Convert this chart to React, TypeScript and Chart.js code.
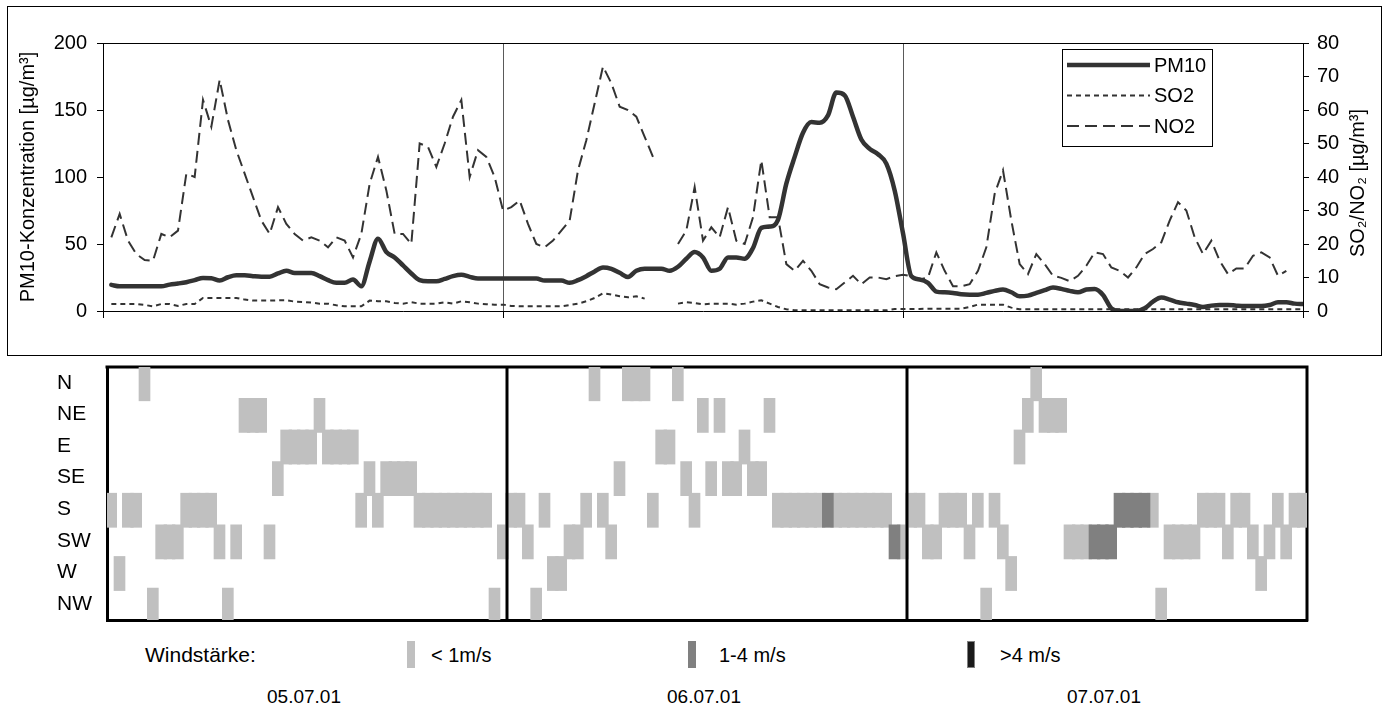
import React, { useEffect, useRef } from "react";
import { Chart, registerables } from "chart.js";

Chart.register(...registerables);

const FONT = '"Liberation Sans", Arial, Helvetica, sans-serif';
Chart.defaults.font.family = FONT;

// ---------- time axis: half-hour slots over three days ----------
const slots = Array.from({ length: 144 }, (_, i) => i + 1);
const dayBounds = [0, 48, 96, 144];
const dayLabels = ["05.07.01", "06.07.01", "07.07.01"];
const pmTicks = [0, 50, 100, 150, 200];
const gasTicks = [0, 10, 20, 30, 40, 50, 60, 70, 80];

// ---------- concentrations (half-hourly) ----------
const pm10 = [
  19.5, 18.4, 18.4, 18.4, 18.4, 18.4, 18.4, 19.7, 20.5, 21.5,
  23, 24.7, 24.5, 22.8, 25.2, 26.6, 26.6, 26, 25.6, 25.6,
  28, 30, 28.4, 28.4, 28.4, 26, 23, 21, 21, 23.5,
  18.5, 37, 54, 44, 40, 34, 28, 23, 22.2, 22.2,
  24, 26, 27, 25.5, 24.2, 24.2, 24.2, 24.2, 24.2, 24.2,
  24.2, 24.2, 22.7, 22.7, 22.7, 21, 23, 26, 29.5, 32.5,
  31.5, 28.5, 25.4, 30, 31.6, 31.6, 31.6, 30, 33, 39,
  44, 40, 30, 31.5, 40, 40, 39, 47, 62, 63,
  68, 95, 115, 133, 141, 140.5, 146, 163, 161, 145,
  128, 121, 117, 110, 90, 58, 26, 23.5, 21, 14.5,
  14, 13.5, 12.5, 12.2, 12.2, 13.5, 15, 16, 14, 11,
  11.5, 13.5, 15.5, 17.5, 16.5, 15, 14, 16, 16.4, 12,
  2, 0, 0, 0, 2, 7, 10, 8.5, 6.5, 5.5,
  4.5, 3, 4, 4.5, 4.5, 4, 3.7, 3.7, 3.7, 4.5,
  6.5, 6.5, 5.5, 5.2,
];

const so2 = [
  2.1, 2.1, 2.1, 2.1, 1.8, 1.4, 2.1, 2.1, 1.5, 2.1,
  2.1, 3.9, 3.9, 3.9, 3.9, 3.9, 3.4, 3.1, 3.1, 3.1,
  3.2, 3.2, 2.8, 2.7, 2.5, 2.2, 2.2, 1.7, 1.4, 1.4,
  1.4, 3.1, 2.9, 2.9, 2.4, 2.2, 2.6, 2.2, 2.2, 2.2,
  2.6, 2.2, 2.9, 2.6, 2.2, 2.0, 1.9, 1.9, 1.5, 1.4,
  1.4, 1.4, 1.4, 1.4, 1.4, 1.8, 2.2, 2.9, 3.9, 5.3,
  4.9, 4.4, 4.1, 4.4, 3.7, null, null, null, 2.2, 2.6,
  2.4, 2.0, 2.2, 2.2, 2.2, 1.9, 2.2, 2.8, 3.2, 2.2,
  1.2, 0.5, 0.2, 0.2, 0.2, 0.2, 0.2, 0.2, 0.2, 0.2,
  0.2, 0.2, 0.2, 0.2, 0.6, 0.6, 0.6, 0.6, 0.7, 0.7,
  0.7, 0.7, 0.7, 1.2, 1.9, 1.9, 1.9, 1.9, 1.0, 0.5,
  0.5, 0.5, 0.5, 0.5, 0.5, 0.5, 0.5, 0.5, 0.5, 0.5,
  0.5, 0.5, 0.5, 0.5, 0.5, 0.5, 0.5, 0.5, 0.5, 0.5,
  0.5, 0.5, 0.5, 0.5, 0.5, 0.5, 0.5, 0.5, 0.5, 0.5,
  0.5, 0.5, 0.5, 0.5,
];

const no2 = [
  22, 29, 21, 17, 15.2, 15, 23, 22, 24, 41,
  40, 63, 55, 69, 57, 48, 41, 34, 27, 23,
  31, 26, 23, 21, 22, 21, 19, 22, 21, 16,
  23, 38, 46, 36, 23, 23, 20, 50, 49, 43,
  50, 58, 63, 40, 48, 46, 40, 30, 31, 33,
  26, 20, 19, 21, 24, 27, 42, 51, 62, 73,
  68, 61, 60, 58, 52, 46, null, null, 20, 24,
  37, 21, 25, 22, 31, 21, 20, 28, 45, 28,
  28, 14, 12, 15, 12, 8, 7, 6.5, 8.5, 10.5,
  8, 10, 10, 9.5, 10.4, 10.8, 10.4, 9.4, 10, 17.5,
  12, 7.4, 7.4, 8, 12, 19, 35, 42, 27, 14,
  11, 17, 14, 10.5, 9.9, 8.9, 10.5, 13.5, 17.5, 17,
  13, 12, 10, 13, 17, 18.5, 20.5, 27, 32.5, 30,
  22, 17, 21, 15, 11, 12.7, 12.7, 16.5, 17.5, 16,
  10.5, 12, null, null,
];

// ---------- wind (half-hourly direction and strength class) ----------
const directions = ["N", "NE", "E", "SE", "S", "SW", "W", "NW"];
const windDir = [
  "S", "W", "S", "S", "N", "NW", "SW", "SW", "SW", "S", "S", "S",
  "S", "SW", "NW", "SW", "NE", "NE", "NE", "SW", "SE", "E", "E", "E",
  "E", "NE", "E", "E", "E", "E", "S", "SE", "S", "SE", "SE", "SE",
  "SE", "S", "S", "S", "S", "S", "S", "S", "S", "S", "NW", "SW",
  "S", "S", "SW", "NW", "S", "W", "W", "SW", "SW", "S", "N", "S",
  "SW", "SE", "N", "N", "N", "S", "E", "E", "N", "SE", "S", "NE",
  "SE", "NE", "SE", "SE", "E", "SE", "SE", "NE", "S", "S", "S", "S",
  "S", "S", "S", "S", "S", "S", "S", "S", "S", "S", "SW", "SW",
  "S", "S", "SW", "SW", "S", "S", "S", "SW", "S", "NW", "S", "SW",
  "W", "E", "NE", "N", "NE", "NE", "NE", "SW", "SW", "SW", "SW", "SW",
  "SW", "S", "S", "S", "S", "S", "NW", "SW", "SW", "SW", "SW", "S",
  "S", "S", "SW", "S", "S", "SW", "W", "SW", "S", "SW", "S", "S",
];
const windForce = [
  1, 1, 1, 1, 1, 1, 1, 1, 1, 1, 1, 1,
  1, 1, 1, 1, 1, 1, 1, 1, 1, 1, 1, 1,
  1, 1, 1, 1, 1, 1, 1, 1, 1, 1, 1, 1,
  1, 1, 1, 1, 1, 1, 1, 1, 1, 1, 1, 1,
  1, 1, 1, 1, 1, 1, 1, 1, 1, 1, 1, 1,
  1, 1, 1, 1, 1, 1, 1, 1, 1, 1, 1, 1,
  1, 1, 1, 1, 1, 1, 1, 1, 1, 1, 1, 1,
  1, 1, 2, 1, 1, 1, 1, 1, 1, 1, 2, 1,
  1, 1, 1, 1, 1, 1, 1, 1, 1, 1, 1, 1,
  1, 1, 1, 1, 1, 1, 1, 1, 1, 1, 2, 2,
  2, 2, 2, 2, 2, 1, 1, 1, 1, 1, 1, 1,
  1, 1, 1, 1, 1, 1, 1, 1, 1, 1, 1, 1,
];
const windClasses = [
  { label: "< 1m/s", color: "#c0c0c0" },
  { label: "1-4 m/s", color: "#808080" },
  { label: ">4 m/s", color: "#1a1a1a" },
];

const toPoints = (vals: (number | null)[]) =>
  vals.map((v, i) => ({ x: slots[i], y: v }));

const topDecor = {
  id: "topDecor",
  beforeDraw(chart: any) {
    const { ctx } = chart;
    ctx.save();
    ctx.fillStyle = "#fff";
    ctx.fillRect(0, 0, chart.width, chart.height);
    ctx.strokeStyle = "#000";
    ctx.lineWidth = 1;
    ctx.strokeRect(7.5, 6.5, 1374, 349);
    ctx.restore();
  },
  afterDraw(chart: any) {
    const { ctx, chartArea: a } = chart;
    ctx.save();
    ctx.strokeStyle = "#000";
    ctx.lineWidth = 1;
    ctx.beginPath();
    ctx.moveTo(a.left, a.top + 0.5);
    ctx.lineTo(a.right, a.top + 0.5);
    ctx.stroke();

    // right axis title (reads bottom to top)
    const yR = chart.scales.yR;
    ctx.translate(yR.right - 22, (a.top + a.bottom) / 2 + 6);
    ctx.rotate(-Math.PI / 2);
    ctx.fillStyle = "#000";
    ctx.font = `20px ${FONT}`;
    ctx.textAlign = "center";
    ctx.textBaseline = "middle";
    ctx.fillText("SO\u2082/NO\u2082 [\u00b5g/m\u00b3]", 0, 0);
    ctx.restore();

    // legend box inside the plot
    ctx.save();
    const bx = a.right - 241;
    const by = a.top + 6;
    const bw = 150;
    const bh = 97;
    ctx.fillStyle = "#fff";
    ctx.fillRect(bx, by, bw, bh);
    ctx.strokeStyle = "#000";
    ctx.lineWidth = 1;
    ctx.strokeRect(bx + 0.5, by + 0.5, bw, bh);
    chart.data.datasets.forEach((ds: any, i: number) => {
      const y = by + 16 + i * 30.5;
      ctx.setLineDash(ds.borderDash || []);
      ctx.lineWidth = ds.borderWidth;
      ctx.strokeStyle = ds.borderColor;
      ctx.beginPath();
      ctx.moveTo(bx + 5, y);
      ctx.lineTo(bx + 88, y);
      ctx.stroke();
      ctx.setLineDash([]);
      ctx.fillStyle = "#000";
      ctx.font = `20px ${FONT}`;
      ctx.textAlign = "left";
      ctx.textBaseline = "middle";
      ctx.fillText(ds.label, bx + 92, y + 1);
    });
    ctx.restore();
  },
};

const windDecor = {
  id: "windDecor",
  beforeDraw(chart: any) {
    const { ctx } = chart;
    ctx.save();
    ctx.fillStyle = "#fff";
    ctx.fillRect(0, 0, chart.width, chart.height);
    ctx.restore();
  },
  beforeDatasetsDraw(chart: any) {
    const { ctx, chartArea: a } = chart;
    ctx.save();
    ctx.strokeStyle = "#000";
    ctx.lineWidth = 3;
    ctx.beginPath();
    ctx.moveTo(a.left - 1.5, a.top);
    ctx.lineTo(a.right + 1.5, a.top);
    ctx.moveTo(a.right, a.top);
    ctx.lineTo(a.right, a.bottom + 1.5);
    ctx.stroke();
    ctx.restore();
  },
  afterDatasetsDraw(chart: any) {
    const { ctx, chartArea: a } = chart;
    const xs = chart.scales.x;
    ctx.save();
    ctx.strokeStyle = "#000";
    ctx.lineWidth = 3;
    dayBounds.slice(1, -1).forEach((b) => {
      const px = (xs.getPixelForValue(b - 1) + xs.getPixelForValue(b)) / 2;
      ctx.beginPath();
      ctx.moveTo(px, a.top);
      ctx.lineTo(px, a.bottom);
      ctx.stroke();
    });
    ctx.restore();
  },
};

export default function App() {
  const topRef = useRef<HTMLCanvasElement>(null);
  const windRef = useRef<HTMLCanvasElement>(null);

  useEffect(() => {
    const tickFont = { family: FONT, size: 20 };
    const top = new Chart(topRef.current as HTMLCanvasElement, {
      type: "line",
      data: {
        datasets: [
          {
            label: "PM10",
            data: toPoints(pm10),
            yAxisID: "yL",
            borderColor: "#333333",
            borderWidth: 4.5,
            pointRadius: 0,
            cubicInterpolationMode: "monotone",
            borderCapStyle: "round",
            borderJoinStyle: "round",
          },
          {
            label: "SO2",
            data: toPoints(so2),
            yAxisID: "yR",
            borderColor: "#333333",
            borderWidth: 2,
            borderDash: [5, 4],
            pointRadius: 0,
            tension: 0,
          },
          {
            label: "NO2",
            data: toPoints(no2),
            yAxisID: "yR",
            borderColor: "#333333",
            borderWidth: 2,
            borderDash: [12, 6],
            pointRadius: 0,
            tension: 0,
          },
        ] as any,
      },
      options: {
        responsive: false,
        animation: false,
        spanGaps: false,
        layout: { padding: { left: 10, right: 10, top: 43, bottom: 10 } },
        plugins: { legend: { display: false }, tooltip: { enabled: false } },
        scales: {
          x: {
            type: "linear",
            min: 0,
            max: 144,
            afterBuildTicks: (s: any) => {
              s.ticks = dayBounds.map((v) => ({ value: v }));
            },
            ticks: { display: false },
            grid: {
              color: (c: any) =>
                c.tick && (c.tick.value === 0 || c.tick.value === 144) ? "#000" : "#5a5a5a",
              lineWidth: 1,
              drawTicks: true,
              tickLength: 7,
              tickColor: "#000",
            },
            border: { display: true, color: "#000", width: 1 },
            afterFit: (s: any) => {
              s.height = 39;
            },
          },
          yL: {
            type: "linear",
            position: "left",
            min: 0,
            max: 200,
            afterBuildTicks: (s: any) => {
              s.ticks = pmTicks.map((v) => ({ value: v }));
            },
            ticks: { font: tickFont, color: "#000", padding: 10 },
            grid: { drawOnChartArea: false, drawTicks: true, tickLength: 6, tickColor: "#000" },
            border: { display: true, color: "#000", width: 1 },
            title: {
              display: true,
              text: "PM10-Konzentration [\u00b5g/m\u00b3]",
              font: { family: FONT, size: 20 },
              color: "#000",
              padding: { top: 6, bottom: 0 },
            },
            afterFit: (s: any) => {
              s.width = 93;
            },
          },
          yR: {
            type: "linear",
            position: "right",
            min: 0,
            max: 80,
            afterBuildTicks: (s: any) => {
              s.ticks = gasTicks.map((v) => ({ value: v }));
            },
            ticks: { font: tickFont, color: "#000", padding: 8 },
            grid: { drawOnChartArea: false, drawTicks: true, tickLength: 6, tickColor: "#000" },
            border: { display: true, color: "#000", width: 1 },
            afterFit: (s: any) => {
              s.width = 77;
            },
          },
        },
      } as any,
      plugins: [topDecor],
    });

    const wind = new Chart(windRef.current as HTMLCanvasElement, {
      type: "bar",
      data: {
        labels: slots,
        datasets: windClasses.map((cls, c) => ({
          label: cls.label,
          data: windDir.map((d, i) => {
            const k = directions.indexOf(d);
            return windForce[i] === c + 1 ? [k - 0.52, k + 0.58] : null;
          }),
          backgroundColor: cls.color,
          borderWidth: 0,
          grouped: false,
          barPercentage: 1.4,
          categoryPercentage: 1,
          order: 3 - c,
        })) as any,
      },
      options: {
        responsive: false,
        animation: false,
        layout: { padding: { left: 57, right: 83, top: 7, bottom: 10 } },
        plugins: { legend: { display: false }, tooltip: { enabled: false } },
        scales: {
          x: {
            type: "category",
            offset: true,
            ticks: { display: false },
            grid: { display: false },
            border: { display: true, color: "#000", width: 3 },
            afterFit: (s: any) => {
              s.height = 0;
              s.paddingLeft = 0;
              s.paddingRight = 0;
            },
          },
          y: {
            type: "linear",
            reverse: true,
            min: -0.5,
            max: 7.5,
            afterBuildTicks: (s: any) => {
              s.ticks = directions.map((_, i) => ({ value: i }));
            },
            ticks: {
              callback: (v: any) => directions[v] ?? "",
              font: { family: FONT, size: 21 },
              color: "#000",
              crossAlign: "far",
              padding: 0,
            },
            grid: { display: false, drawTicks: false },
            border: { display: true, color: "#000", width: 3 },
            afterFit: (s: any) => {
              s.width = 50;
              s.paddingTop = 0;
              s.paddingBottom = 0;
            },
          },
        },
      } as any,
      plugins: [windDecor],
    });

    return () => {
      top.destroy();
      wind.destroy();
    };
  }, []);

  const swatchX = [407, 688, 967];
  const labelX = [431, 719, 1000];
  const dayCenters = [304, 704, 1104];

  return (
    <div
      style={{
        position: "absolute",
        left: 0,
        top: 0,
        width: 1390,
        height: 712,
        background: "#fff",
        fontFamily: FONT,
        color: "#000",
        overflow: "hidden",
      }}
    >
      <canvas ref={topRef} width={1390} height={360} style={{ position: "absolute", left: 0, top: 0 }} />
      <canvas ref={windRef} width={1390} height={270} style={{ position: "absolute", left: 0, top: 360 }} />
      <div style={{ position: "absolute", left: 145, top: 643, fontSize: 21, lineHeight: "24px" }}>
        Windstärke:
      </div>
      {windClasses.map((c, i) => (
        <React.Fragment key={c.label}>
          <div
            style={{
              position: "absolute",
              left: swatchX[i],
              top: 641,
              width: 8,
              height: 27,
              boxSizing: "border-box",
              background: c.color,
              border: i === 2 ? "1px solid #808080" : "none",
            }}
          />
          <div style={{ position: "absolute", left: labelX[i], top: 643, fontSize: 20, lineHeight: "24px" }}>
            {c.label}
          </div>
        </React.Fragment>
      ))}
      {dayLabels.map((d, i) => (
        <div
          key={d}
          style={{
            position: "absolute",
            left: dayCenters[i] - 80,
            width: 160,
            textAlign: "center",
            top: 685,
            fontSize: 19,
            lineHeight: "24px",
          }}
        >
          {d}
        </div>
      ))}
    </div>
  );
}
